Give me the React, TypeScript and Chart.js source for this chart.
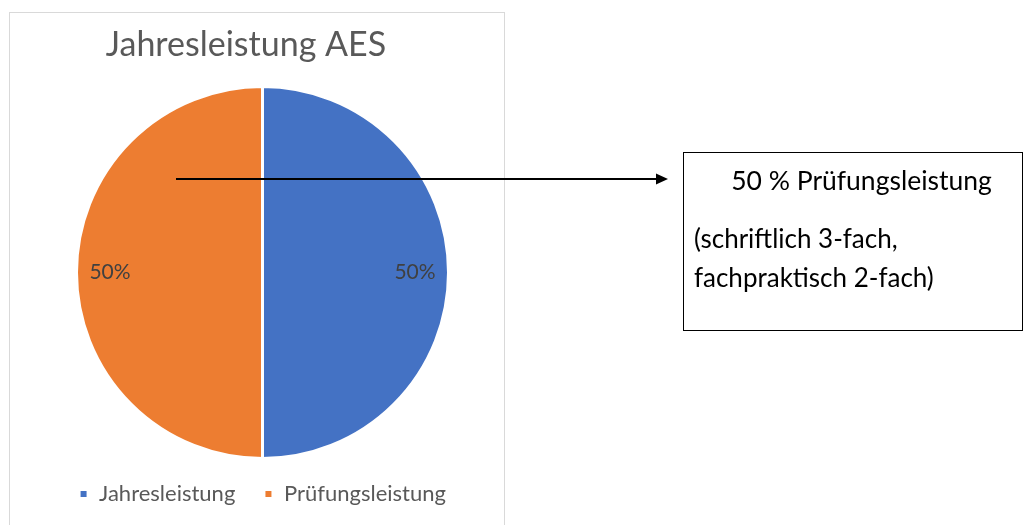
import React, { useEffect, useRef } from "react";
import { Chart, registerables } from "chart.js";

Chart.register(...registerables);

const categories = ["Jahresleistung", "Prüfungsleistung"];
const values = [50, 50];
const colors = ["#4472C4", "#ED7D31"];
const chartTitle = "Jahresleistung AES";
const noteHeading = "50 % Prüfungsleistung";
const noteLines = ["(schriftlich 3-fach,", "fachpraktisch 2-fach)"];

const FONT = "Lato, 'Open Sans', sans-serif";

const pctLabels = {
  id: "pctLabels",
  afterDatasetsDraw(chart: any) {
    const ctx = chart.ctx;
    const meta = chart.getDatasetMeta(0);
    const data = chart.data.datasets[0].data as number[];
    const total = data.reduce((a, b) => a + b, 0);
    ctx.save();
    ctx.font = `21px ${FONT}`;
    ctx.fillStyle = "#404040";
    ctx.textAlign = "center";
    ctx.textBaseline = "middle";
    meta.data.forEach((arc: any, i: number) => {
      const p = arc.getProps(["x", "y", "startAngle", "endAngle", "outerRadius"], true);
      const mid = (p.startAngle + p.endAngle) / 2;
      const r = p.outerRadius * 0.82;
      const txt = Math.round((data[i] / total) * 100) + "%";
      ctx.fillText(txt, p.x + Math.cos(mid) * r, p.y + Math.sin(mid) * r);
    });
    // chart title
    ctx.font = `34px ${FONT}`;
    ctx.fillStyle = "#595959";
    ctx.fillText(chartTitle, 236, 32);
    ctx.restore();
  },
};

export default function App() {
  const ref = useRef<HTMLCanvasElement>(null);
  useEffect(() => {
    if (!ref.current) return;
    const chart = new Chart(ref.current, {
      type: "pie",
      data: {
        labels: categories,
        datasets: [
          {
            data: values,
            backgroundColor: colors,
            borderColor: "#ffffff",
            borderWidth: 3,
          },
        ],
      },
      options: {
        animation: false,
        responsive: false,
        maintainAspectRatio: false,
        layout: { padding: { left: 11, right: 0, top: 72, bottom: 0 } },
        plugins: {
          title: { display: false },
          legend: {
            position: "bottom",
            labels: {
              boxWidth: 9,
              boxHeight: 9,
              padding: 23,
              color: "#595959",
              font: { family: FONT, size: 22 },
              generateLabels(chart: any) {
                const items = (Chart as any).overrides.pie.plugins.legend.labels.generateLabels(chart);
                return items.map((it: any, i: number) =>
                  i < items.length - 1 ? { ...it, text: it.text + " " } : it
                );
              },
            },
          },
          tooltip: { enabled: false },
        },
      },
      plugins: [pctLabels],
    });
    return () => chart.destroy();
  }, []);

  return (
    <div style={{ position: "fixed", left: 0, top: 0, width: 1026, height: 525, background: "#fff", overflow: "hidden" }}>
      <div
        style={{
          position: "absolute",
          left: 9,
          top: 12,
          width: 494,
          height: 540,
          border: "1px solid #d9d9d9",
        }}
      />
      <canvas
        ref={ref}
        width={494}
        height={502}
        style={{ position: "absolute", left: 10, top: 13, width: 494, height: 502 }}
      />
      <svg
        width={1026}
        height={525}
        style={{ position: "absolute", left: 0, top: 0, pointerEvents: "none" }}
      >
        <line x1={176} y1={179} x2={658} y2={179} stroke="#000" strokeWidth={2} />
        <polygon points="656,173.5 668,179 656,184.5" fill="#000" />
      </svg>
      <div
        style={{
          position: "absolute",
          left: 683,
          top: 152,
          width: 340,
          height: 179,
          border: "1.5px solid #000",
          boxSizing: "border-box",
          fontFamily: FONT,
          fontSize: 26,
          color: "#000",
        }}
      >
        <div style={{ position: "absolute", left: 0, right: 0, top: 11.5, textAlign: "center", paddingLeft: 17, lineHeight: "31.2px", whiteSpace: "nowrap", fontSize: 26.5 }}>
          {noteHeading}
        </div>
        <div style={{ position: "absolute", left: 10, top: 66, lineHeight: "39px", whiteSpace: "nowrap" }}>
          {noteLines.map((l, i) => (
            <div key={i}>{l}</div>
          ))}
        </div>
      </div>
    </div>
  );
}
